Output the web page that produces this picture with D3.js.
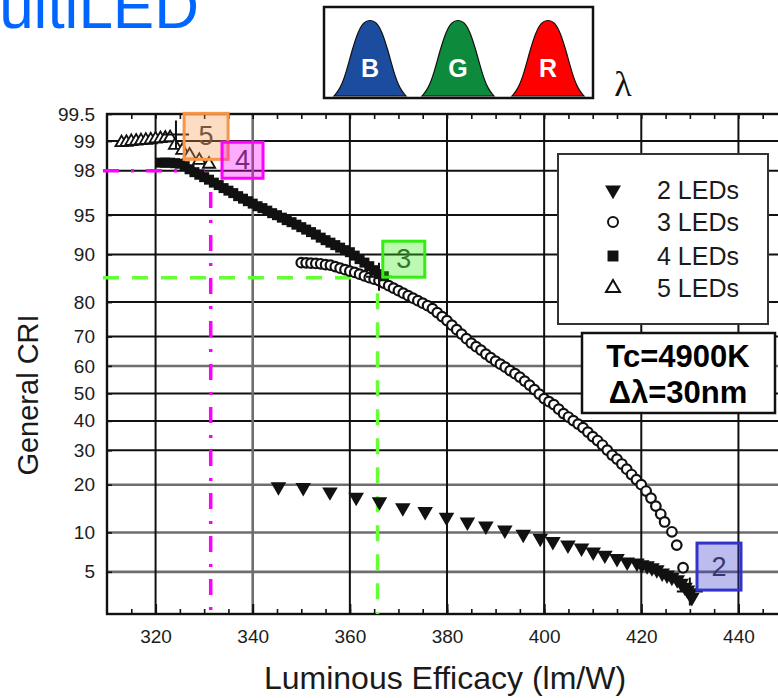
<!DOCTYPE html>
<meta charset="utf-8">
<script src="https://d3js.org/d3.v7.min.js"></script>
<style>
  body { margin: 0; background: #fff; }
  svg { display: block; font-family: "Liberation Sans", Arial, sans-serif; }
</style>
<div id="chart"></div>
<script>

// ---- data ----
const xTicks = [320, 340, 360, 380, 400, 420, 440];
const yTicks = [5, 10, 20, 30, 40, 50, 60, 70, 80, 90, 95, 98, 99, 99.5];
const yGrid = [5, 10, 20, 30, 40, 50, 60, 70, 80, 90, 95, 98, 99];

// 2 LEDs (filled down triangles)
const leds2Eff = [345.3, 350.4, 355.9, 361.3, 366.1, 370.9, 375.5, 379.9, 384.2, 388.0, 391.9, 395.7,
  399.2, 401.8, 404.9, 407.7, 410.1, 412.5, 415.0, 417.1, 419.1, 420.1, 421.2, 422.2, 423.2, 424.3,
  425.3, 426.3, 427.4, 428.2, 429.0, 429.5, 430.0, 430.4];
const leds2Cri = [19.5, 19.3, 18.2, 16.9, 15.9, 14.6, 13.8, 12.7, 11.8, 11.1, 10.4, 9.7,
  9.1, 8.6, 8.1, 7.7, 7.2, 6.8, 6.4, 6.0, 5.9, 5.7, 5.6, 5.4, 5.2, 4.9,
  4.7, 4.5, 4.3, 4.0, 3.7, 3.5, 3.3, 3.0];

// 3 LEDs (open circles)
const leds3Eff = [350, 351, 352, 353, 354, 355, 356, 357, 358, 359, 360, 361, 362, 363, 364, 365, 366,
  367, 368, 369, 370, 371, 372, 373, 374, 375, 376, 377, 378, 379, 380, 381, 382, 383, 384, 385,
  386, 387, 388, 389, 390, 391, 392, 393, 394, 395, 396, 397, 398, 399, 400, 401, 402, 403, 404,
  405, 406, 407, 408, 409, 410, 411, 412, 413, 414, 415, 416, 417, 418, 419, 420, 421, 422, 423,
  424, 424.8, 426.3, 427.3, 428.6];
const leds3Cri = [88.60, 88.56, 88.51, 88.46, 88.39, 88.24, 88.15, 87.88, 87.59, 87.31, 87.02, 86.77,
  86.42, 86.06, 85.70, 85.39, 85.08, 84.54, 83.98, 83.41, 82.82, 82.23, 81.62, 81.01, 80.38, 79.73,
  79.08, 78.28, 77.18, 76.05, 74.89, 73.53, 72.17, 70.78, 69.32, 67.86, 66.68, 65.51, 64.14, 62.93,
  61.71, 60.64, 59.56, 58.32, 57.22, 55.97, 54.52, 53.05, 51.40, 49.74, 48.09, 46.97, 45.89, 44.24,
  42.62, 41.37, 40.10, 38.86, 37.63, 36.06, 34.53, 33.19, 31.70, 30.06, 28.48, 27.24, 25.75, 24.26,
  22.72, 21.35, 20.02, 18.40, 16.73, 14.94, 13.30, 11.8, 10.1, 8.1, 5.4];

// 4 LEDs (filled squares)
const leds4Eff = [321, 322, 323, 324, 325, 326, 327, 328, 329, 330, 331, 332, 333, 334, 335, 336, 337,
  338, 339, 340, 341, 342, 343, 344, 345, 346, 347, 348, 349, 350, 351, 352, 353, 354, 355, 356,
  357, 358, 359, 360, 361, 362, 363, 364, 365, 366, 367];
const leds4Cri = [98.33, 98.33, 98.33, 98.31, 98.29, 98.19, 98.06, 97.93, 97.81, 97.69, 97.56, 97.40,
  97.26, 97.08, 96.92, 96.76, 96.55, 96.37, 96.18, 95.99, 95.78, 95.62, 95.40, 95.17, 94.98, 94.74,
  94.49, 94.28, 94.01, 93.73, 93.45, 93.15, 92.84, 92.45, 92.11, 91.77, 91.42, 91.05, 90.67, 90.35,
  89.80, 89.21, 88.61, 87.96, 87.20, 86.42, 86.0];

// 5 LEDs (open up triangles)
const leds5Eff = [313, 314, 315, 316, 317, 318, 319, 320, 321, 322, 323, 324, 325.5, 327, 329, 331];
const leds5Cri = [98.96, 98.97, 98.99, 99.00, 99.01, 99.02, 99.03, 99.05, 99.06, 99.07, 99.08,
  98.89, 98.75, 98.60, 98.42, 98.27];

// optimum crosses of the original figure
const crossEff = [324.2, 366.0, 430.0];
const crossCri = [99.15, 85.9, 3.4];

// highlighted optima (number of LEDs) and guide lines
const tagLabels = ["5", "4", "3", "2"];
const tagEff = [330.4, 337.9, 371.1, 436.0];
const tagCri = [99.11, 98.42, 89.2, 5.52];
const guideEff = [331.35, 365.7];
const guideCri = [98.0, 85.7];

const legendLabels = ["2 LEDs", "3 LEDs", "4 LEDs", "5 LEDs"];
const spectrumLabels = ["B", "G", "R"];

// ---- probability (normal quantile) axis ----
function probit(p) {
  const a = [-3.969683028665376e+01, 2.209460984245205e+02, -2.759285104469687e+02, 1.383577518672690e+02, -3.066479806614716e+01, 2.506628277459239e+00];
  const b = [-5.447609879822406e+01, 1.615858368580409e+02, -1.556989798598866e+02, 6.680131188771972e+01, -1.328068155288572e+01];
  const c = [-7.784894002430293e-03, -3.223964580411365e-01, -2.400758277161838e+00, -2.549732539343734e+00, 4.374664141464968e+00, 2.938163982698783e+00];
  const d = [7.784695709041462e-03, 3.224671290700398e-01, 2.445134137142996e+00, 3.754408661907416e+00];
  const pl = 0.02425;
  if (p < pl) {
    const q = Math.sqrt(-2 * Math.log(p));
    return (((((c[0]*q+c[1])*q+c[2])*q+c[3])*q+c[4])*q+c[5]) / ((((d[0]*q+d[1])*q+d[2])*q+d[3])*q+1);
  }
  if (p > 1 - pl) {
    const q = Math.sqrt(-2 * Math.log(1 - p));
    return -(((((c[0]*q+c[1])*q+c[2])*q+c[3])*q+c[4])*q+c[5]) / ((((d[0]*q+d[1])*q+d[2])*q+d[3])*q+1);
  }
  const q = p - 0.5, r = q * q;
  return (((((a[0]*r+a[1])*r+a[2])*r+a[3])*r+a[4])*r+a[5])*q / (((((b[0]*r+b[1])*r+b[2])*r+b[3])*r+b[4])*r+1);
}

const W = 778, H = 698;
const pLeft = 107, pTop = 114, pRight = 787, pBottom = 614;

const svg = d3.select("#chart").append("svg")
  .attr("width", W).attr("height", H);

const x = d3.scaleLinear().domain([310, 450]).range([pLeft, pRight]);
const zLin = d3.scaleLinear().domain([probit(0.021), probit(0.995)]).range([pBottom, pTop]);
function y(v) { return zLin(probit(v / 100)); }
y.range = () => zLin.range();
y.copy = () => y;

// ---- title fragment and spectrum inset ----
svg.append("text")
  .attr("x", 199).attr("y", 28)
  .attr("text-anchor", "end")
  .attr("font-size", 62)
  .attr("fill", "#0066ff")
  .text("MultiLED");

const inset = svg.append("g");
inset.append("rect")
  .attr("x", 324).attr("y", 7).attr("width", 269).attr("height", 91)
  .attr("fill", "#fff").attr("stroke", "#111").attr("stroke-width", 2.5);

const peakX = [370, 458, 548];
const peakColor = ["#1b4c9e", "#0d8a3c", "#ff0000"];
const bellDx = [-36, -30, -24, -18, -12, -6, 0, 6, 12, 18, 24, 30, 36];
const bellH = [0, 0.09, 0.3, 0.6, 0.85, 0.98, 1, 0.98, 0.85, 0.6, 0.3, 0.09, 0];
const bell = d3.area()
  .x(d => d[0]).y0(96).y1(d => 96 - d[1] * 76)
  .curve(d3.curveBasis);
peakX.forEach((cx, i) => {
  inset.append("path")
    .attr("d", bell(bellDx.map((dx, k) => [cx + dx, bellH[k]])))
    .attr("fill", peakColor[i]).attr("stroke", "#111").attr("stroke-width", 1.2);
  inset.append("text")
    .attr("x", cx).attr("y", 77)
    .attr("text-anchor", "middle")
    .attr("font-size", 25).attr("font-weight", "bold")
    .attr("fill", "#fff")
    .text(spectrumLabels[i]);
});
inset.append("text")
  .attr("x", 623).attr("y", 96)
  .attr("text-anchor", "middle")
  .attr("font-family", "'Liberation Serif', serif")
  .attr("font-size", 36)
  .attr("fill", "#111")
  .text("λ");

// ---- grid ----
const grid = svg.append("g");
const soft = d => d === 5 || d === 10 || d === 20 || d === 60;
grid.selectAll(".hg").data(yGrid).join("line")
  .attr("x1", pLeft).attr("x2", pRight)
  .attr("y1", d => y(d)).attr("y2", d => y(d))
  .attr("stroke", d => soft(d) ? "#6e6e6e" : "#111")
  .attr("stroke-width", d => soft(d) ? 2.6 : 2);
grid.selectAll(".vg").data(xTicks).join("line")
  .attr("x1", d => x(d)).attr("x2", d => x(d))
  .attr("y1", pTop).attr("y2", pBottom)
  .attr("stroke", d => d === 340 ? "#6e6e6e" : "#111")
  .attr("stroke-width", d => d === 340 ? 2.6 : 2);

// ---- axes ----
const xMinor = d3.range(315, 450, 5);
svg.append("g")
  .attr("transform", `translate(0,${pBottom})`)
  .call(d3.axisBottom(x).tickValues(xMinor).tickSize(-5).tickFormat(""))
  .call(g => g.select(".domain").remove())
  .call(g => g.selectAll("line").attr("stroke", "#111").attr("stroke-width", 1.6));
svg.append("g")
  .attr("transform", `translate(0,${pTop})`)
  .call(d3.axisTop(x).tickValues(xMinor).tickSize(-5).tickFormat(""))
  .call(g => g.select(".domain").remove())
  .call(g => g.selectAll("line").attr("stroke", "#111").attr("stroke-width", 1.6));
svg.append("g")
  .attr("transform", `translate(0,${pBottom})`)
  .call(d3.axisBottom(x).tickValues(xTicks).tickSize(-10).tickPadding(16))
  .call(g => g.select(".domain").remove())
  .call(g => g.selectAll("line").attr("stroke", "#111").attr("stroke-width", 2))
  .call(g => g.selectAll("text").attr("font-size", 19).attr("fill", "#1c1c1c")
    .attr("font-family", "'Liberation Sans', Arial, sans-serif"));
svg.append("g")
  .attr("transform", `translate(${pLeft},0)`)
  .call(d3.axisLeft(y).tickValues(yTicks).tickSize(-5).tickPadding(12).tickFormat(d => String(d)))
  .call(g => g.select(".domain").remove())
  .call(g => g.selectAll("line").attr("stroke", "#111").attr("stroke-width", 1.6))
  .call(g => g.selectAll("text").attr("font-size", 19).attr("fill", "#1c1c1c")
    .attr("font-family", "'Liberation Sans', Arial, sans-serif"));

svg.append("rect")
  .attr("x", pLeft).attr("y", pTop)
  .attr("width", pRight - pLeft).attr("height", pBottom - pTop)
  .attr("fill", "none").attr("stroke", "#111").attr("stroke-width", 2.4);

svg.append("text")
  .attr("x", 445).attr("y", 689)
  .attr("text-anchor", "middle")
  .attr("font-size", 32).attr("fill", "#1a1a1a")
  .text("Luminous Efficacy (lm/W)");
svg.append("text")
  .attr("transform", "translate(38,395) rotate(-90)")
  .attr("text-anchor", "middle")
  .attr("font-size", 29).attr("fill", "#1a1a1a")
  .text("General CRI");

// ---- guide lines ----
const guideColor = ["#ff00ff", "#66ff33"];
const guideDash = ["16,12,3,12", "16,13"];
guideEff.forEach((e, i) => {
  svg.append("path")
    .attr("d", d3.line()([[pLeft - 4, y(guideCri[i])], [x(e), y(guideCri[i])], [x(e), pBottom]]))
    .attr("fill", "none")
    .attr("stroke", guideColor[i])
    .attr("stroke-width", 3.5)
    .attr("stroke-dasharray", guideDash[i]);
});

// ---- data ----
const plot = svg.append("g");
const sym = (type, size) => d3.symbol().type(type).size(size)();

plot.selectAll(".s3").data(d3.zip(leds3Eff, leds3Cri)).join("circle")
  .attr("cx", d => x(d[0])).attr("cy", d => y(d[1])).attr("r", 4.8)
  .attr("fill", "#fff").attr("stroke", "#111").attr("stroke-width", 2.2);

plot.selectAll(".s5").data(d3.zip(leds5Eff, leds5Cri)).join("path")
  .attr("transform", d => `translate(${x(d[0])},${y(d[1])})`)
  .attr("d", sym(d3.symbolTriangle, 65))
  .attr("fill", "#fff").attr("stroke", "#111").attr("stroke-width", 1.8);

plot.selectAll(".s4").data(d3.zip(leds4Eff, leds4Cri)).join("path")
  .attr("transform", d => `translate(${x(d[0])},${y(d[1])})`)
  .attr("d", sym(d3.symbolSquare, 100))
  .attr("fill", "#111");

plot.selectAll(".s2").data(d3.zip(leds2Eff, leds2Cri)).join("path")
  .attr("transform", d => `translate(${x(d[0])},${y(d[1])}) rotate(180)`)
  .attr("d", sym(d3.symbolTriangle, 105))
  .attr("fill", "#111");

d3.zip(crossEff, crossCri).forEach(d => {
  const cx = x(d[0]), cy = y(d[1]);
  plot.append("path")
    .attr("d", `M${cx - 13},${cy}H${cx + 13}M${cx},${cy - 14}V${cy + 14}`)
    .attr("stroke", "#111").attr("stroke-width", 2);
});

// ---- legend ----
const legend = svg.append("g");
legend.append("rect")
  .attr("x", 558).attr("y", 154).attr("width", 210).attr("height", 170)
  .attr("fill", "#fff").attr("stroke", "#333").attr("stroke-width", 2);
const legendRowY = [190, 222, 256, 288];
const legendSym = [
  g => g.append("path").attr("d", sym(d3.symbolTriangle, 110)).attr("transform", "rotate(180)").attr("fill", "#111"),
  g => g.append("circle").attr("r", 5).attr("fill", "#fff").attr("stroke", "#111").attr("stroke-width", 2),
  g => g.append("path").attr("d", sym(d3.symbolSquare, 120)).attr("fill", "#111"),
  g => g.append("path").attr("d", sym(d3.symbolTriangle, 85)).attr("fill", "#fff").attr("stroke", "#111").attr("stroke-width", 2)
];
legendLabels.forEach((lab, i) => {
  const g = legend.append("g").attr("transform", `translate(613,${legendRowY[i]})`);
  legendSym[i](g);
  legend.append("text")
    .attr("x", 657).attr("y", legendRowY[i] + 9)
    .attr("font-size", 25).attr("fill", "#1a1a1a")
    .text(lab);
});

// ---- conditions box ----
svg.append("rect")
  .attr("x", 582).attr("y", 333).attr("width", 193).attr("height", 80)
  .attr("fill", "#fff").attr("stroke", "#111").attr("stroke-width", 2.5);
svg.append("text")
  .attr("x", 678).attr("y", 367).attr("text-anchor", "middle")
  .attr("font-size", 31).attr("font-weight", "bold").attr("fill", "#000")
  .text("Tc=4900K");
svg.append("text")
  .attr("x", 678).attr("y", 403).attr("text-anchor", "middle")
  .attr("font-size", 31).attr("font-weight", "bold").attr("fill", "#000")
  .text("Δλ=30nm");

// ---- highlighted tags ----
const tagColor = ["#f79646", "#ff00ff", "#33ee11", "#3333cc"];
const tagW = [44, 41, 42, 44];
const tagH = [46, 36, 36, 47];
tagLabels.forEach((lab, i) => {
  const cx = x(tagEff[i]), cy = y(tagCri[i]);
  svg.append("text")
    .attr("x", cx).attr("y", cy + 9)
    .attr("text-anchor", "middle")
    .attr("font-size", 27).attr("fill", "#3a3a3a")
    .text(lab);
  svg.append("rect")
    .attr("x", cx - tagW[i] / 2).attr("y", cy - tagH[i] / 2)
    .attr("width", tagW[i]).attr("height", tagH[i])
    .attr("fill", tagColor[i]).attr("fill-opacity", 0.33)
    .attr("stroke", tagColor[i]).attr("stroke-width", 3);
});

</script>
